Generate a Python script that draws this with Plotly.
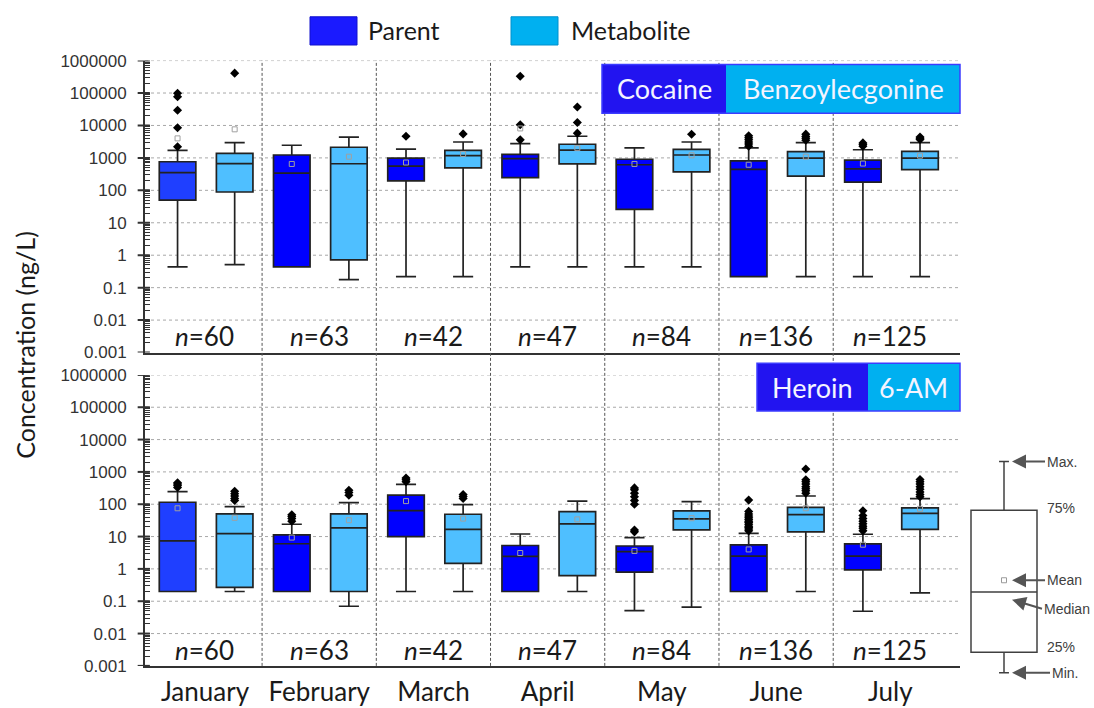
import plotly.graph_objects as go

# ---------------- data ----------------
months = ["January", "February", "March", "April", "May", "June", "July"]
n_counts = [60, 63, 42, 47, 84, 136, 125]

# Top panel: Cocaine (parent)
coc_q1 = [50, 0.44, 195, 245, 26, 0.22, 178]
coc_med = [350, 337, 560, 950, 615, 445, 460]
coc_q3 = [760, 1230, 980, 1290, 910, 810, 850]
coc_lo = [0.44, 0.44, 0.22, 0.44, 0.44, 0.22, 0.22]
coc_hi = [1700, 2450, 1860, 2750, 2040, 2040, 1780]
coc_mean = [4000, 650, 720, 8100, 650, 615, 670]
coc_out = [[98000, 77000, 29500, 8500, 2200], [], [4650], [330000, 10500, 3600],
           [], [2300, 2700, 3100, 3600, 4200, 4800], [2300, 2600, 2900]]

# Top panel: Benzoylecgonine (metabolite)
be_q1 = [89, 0.72, 490, 650, 370, 275, 435]
be_med = [670, 660, 1170, 1740, 1230, 980, 980]
be_q3 = [1380, 2130, 1700, 2630, 1820, 1550, 1590]
be_lo = [0.51, 0.178, 0.22, 0.44, 0.44, 0.22, 0.22]
be_hi = [2950, 4360, 3090, 4650, 3090, 2950, 2950]
be_mean = [7600, 1090, 1320, 2000, 1200, 1090, 1170]
be_out = [[410000], [], [5500], [37000, 12300, 5800], [5350],
          [3500, 4000, 4600, 5400], [3700, 4000, 4400]]

# Bottom panel: Heroin (parent)
her_q1 = [0.2, 0.2, 10, 0.2, 0.8, 0.2, 0.93]
her_med = [7.4, 6.0, 63, 2.45, 3.4, 2.5, 2.5]
her_q3 = [115, 11.3, 190, 5.3, 5.1, 5.5, 5.9]
her_lo = [0.2, 0.2, 0.2, 0.2, 0.051, 0.2, 0.049]
her_hi = [245, 24, 410, 12, 9.3, 12.6, 11.8]
her_mean = [75, 9.3, 125, 3.1, 3.6, 4.0, 5.6]
her_out = [[330, 380, 420, 460], [30, 36, 42, 47], [500, 570, 650], [],
           [14, 16, 100, 130, 170, 220, 280, 320],
           [15, 17, 19, 21, 24, 27, 30, 34, 38, 43, 50, 60, 134],
           [15, 18, 21, 25, 30, 36, 45, 63]]

# Bottom panel: 6-AM (metabolite)
am_q1 = [0.27, 0.2, 1.48, 0.62, 16, 14, 16.6]
am_med = [12.3, 18.6, 16.6, 24.6, 35, 48, 52]
am_q3 = [50, 50, 49, 59, 62, 80, 77]
am_lo = [0.2, 0.07, 0.2, 0.2, 0.066, 0.2, 0.18]
am_hi = [84, 112, 97, 125, 120, 180, 150]
am_mean = [38, 32, 36, 34, 37, 75, 72]
am_out = [[130, 150, 180, 210, 250], [190, 230, 270], [150, 175, 200], [], [],
          [220, 260, 300, 350, 420, 500, 570, 1230],
          [170, 200, 240, 290, 350, 420, 500, 580]]

y_tick_vals = [0.001, 0.01, 0.1, 1, 10, 100, 1000, 10000, 100000, 1000000]
y_tick_text = ["0.001", "0.01", "0.1", "1", "10", "100", "1000", "10000", "100000", "1000000"]

# schematic key box (arbitrary units)
key_min, key_q1, key_median, key_mean, key_q3, key_max = 0, 2.1, 8.3, 9.5, 16.7, 21.7

# ---------------- styling ----------------
W, H = 1094, 708
PARENT_JAN = "#1f3fff"
PARENT = "#0000ff"
METAB = "#4fbfff"
LINE = "#222222"
FONT = "Lato"
AXC = "#333333"


def px(x):
    return x / W


def py(y):
    return 1 - y / H


fig = go.Figure()

panels = [
    ("x", "y", coc_q1, coc_med, coc_q3, coc_lo, coc_hi, coc_mean, coc_out,
     be_q1, be_med, be_q3, be_lo, be_hi, be_mean, be_out),
    ("x2", "y2", her_q1, her_med, her_q3, her_lo, her_hi, her_mean, her_out,
     am_q1, am_med, am_q3, am_lo, am_hi, am_mean, am_out),
]

P_OFF, M_OFF = -0.24, 0.26
for (xa, ya, pq1, pmed, pq3, plo, phi, pmean, pout,
     mq1, mmed, mq3, mlo, mhi, mmean, mout) in panels:
    for i in range(len(months)):
        for off, q1, med, q3, lo, hi, col in [
            (P_OFF, pq1, pmed, pq3, plo, phi, PARENT_JAN if i == 0 else PARENT),
            (M_OFF, mq1, mmed, mq3, mlo, mhi, METAB),
        ]:
            fig.add_trace(go.Box(
                x=[i + off], q1=[q1[i]], median=[med[i]], q3=[q3[i]],
                lowerfence=[lo[i]], upperfence=[hi[i]], orientation="v",
                width=0.32, whiskerwidth=0.55, fillcolor=col,
                line=dict(color=LINE, width=1.7), boxpoints=False,
                xaxis=xa, yaxis=ya, showlegend=False, hoverinfo="skip"))
    # outliers
    for off, outs in [(P_OFF, pout), (M_OFF, mout)]:
        xs, ys = [], []
        for i, vals in enumerate(outs):
            xs += [i + off] * len(vals)
            ys += vals
        fig.add_trace(go.Scatter(
            x=xs, y=ys, mode="markers", xaxis=xa, yaxis=ya,
            marker=dict(symbol="diamond", size=7, color="black"),
            showlegend=False, hoverinfo="skip"))
    # means
    for off, means in [(P_OFF, pmean), (M_OFF, mmean)]:
        fig.add_trace(go.Scatter(
            x=[i + off for i in range(len(months))], y=means, mode="markers",
            xaxis=xa, yaxis=ya,
            marker=dict(symbol="square-open", size=5, color="#a0a0a0",
                        line=dict(width=1)),
            showlegend=False, hoverinfo="skip"))

# key box
fig.add_trace(go.Box(
    x=[0.4], q1=[key_q1], median=[key_median], q3=[key_q3],
    lowerfence=[key_min], upperfence=[key_max], orientation="v",
    width=0.66, whiskerwidth=0.15, fillcolor="white",
    line=dict(color="#404040", width=1.5), boxpoints=False,
    xaxis="x3", yaxis="y3", showlegend=False, hoverinfo="skip"))
fig.add_trace(go.Scatter(
    x=[0.4], y=[key_mean], mode="markers", xaxis="x3", yaxis="y3",
    marker=dict(symbol="square-open", size=5, color="#9a9a9a"),
    showlegend=False, hoverinfo="skip"))

# ---------------- axes ----------------
X_DOM = [px(145), px(960)]
Y1_DOM = [py(353), py(53)]
Y2_DOM = [py(675), py(376)]
X_RANGE = [-0.525, 6.61]

minor_vals = [k * 10.0 ** d for d in range(-3, 6) for k in range(2, 10)]
all_vals = y_tick_vals + minor_vals
all_text = y_tick_text + [""] * len(minor_vals)
divider_vals = [i + 0.5 for i in range(len(months) - 1)]

yaxis_common = dict(
    type="log", range=[-3, 6], tickmode="array", tickvals=all_vals,
    ticktext=all_text, showgrid=False, showline=True, linecolor=AXC,
    linewidth=2, ticks="inside", ticklen=5, tickwidth=1.4, tickcolor=AXC,
    ticklabelstandoff=13,
    tickfont=dict(family="Liberation Sans", size=17, color=AXC),
    zeroline=False,
)
xaxis_common = dict(
    range=X_RANGE, domain=X_DOM, showgrid=False, zeroline=False,
    showline=True, linecolor=AXC, linewidth=2, ticks="",
)

fig.update_layout(
    width=W, height=H, margin=dict(l=0, r=0, t=0, b=0),
    paper_bgcolor="white", plot_bgcolor="white",
    xaxis=dict(**xaxis_common, anchor="y", showticklabels=False),
    yaxis=dict(**yaxis_common, domain=Y1_DOM, anchor="x"),
    xaxis2=dict(**xaxis_common, anchor="y2", matches="x",
                tickmode="array", tickvals=list(range(len(months))),
                ticktext=months, ticklabelstandoff=2,
                tickfont=dict(family=FONT, size=26, color="#1a1a1a")),
    yaxis2=dict(**yaxis_common, domain=Y2_DOM, anchor="x2"),
    xaxis3=dict(domain=[px(964), 1.0], range=[0, 1.3], visible=False,
                anchor="y3"),
    yaxis3=dict(domain=[py(692), py(452)], range=[-1, 23], visible=False,
                anchor="x3"),
)

shapes = []
annotations = []

# decade gridlines and crossing major ticks (through the log y scales)
for ya in ["y", "y2"]:
    xa = "x" if ya == "y" else "x2"
    for v in y_tick_vals[1:]:
        shapes.append(dict(type="line", xref=f"{xa} domain", yref=ya,
                           x0=0, x1=1, y0=v, y1=v, layer="below",
                           line=dict(color="#a8a8a8", width=1, dash="dot")))
    for v in y_tick_vals:
        shapes.append(dict(type="line", xref=f"{xa} domain", yref=ya,
                           x0=-0.009, x1=0.006, y0=v, y1=v,
                           line=dict(color=AXC, width=2)))

# month dividers spanning both panels
for b in divider_vals:
    shapes.append(dict(type="line", xref="x", yref="paper", x0=b, x1=b,
                       y0=Y2_DOM[0], y1=Y1_DOM[1],
                       line=dict(color="#555555", width=1, dash="3px,2px")))

# n= labels
for ya in ["y", "y2"]:
    for i, n in enumerate(n_counts):
        annotations.append(dict(
            x=i, y=0.055, xref="x", yref=f"{ya} domain", showarrow=False,
            text=f"<i>n</i>={n}", yanchor="middle",
            font=dict(family=FONT, size=26, color="#1a1a1a")))

# compound label boxes


def label_pair(x0, xm, x1, y0, y1, left, right):
    shapes.append(dict(type="rect", xref="paper", yref="paper",
                       x0=px(x0), x1=px(xm), y0=py(y1), y1=py(y0),
                       fillcolor="#2214f0", line=dict(width=0)))
    shapes.append(dict(type="rect", xref="paper", yref="paper",
                       x0=px(xm), x1=px(x1), y0=py(y1), y1=py(y0),
                       fillcolor="#00b0f0", line=dict(width=0)))
    shapes.append(dict(type="rect", xref="paper", yref="paper",
                       x0=px(x0), x1=px(x1), y0=py(y1), y1=py(y0),
                       fillcolor="rgba(0,0,0,0)",
                       line=dict(color="#3c3cff", width=1.5)))
    for t, a, b in [(left, x0, xm), (right, xm, x1)]:
        annotations.append(dict(
            x=px((a + b) / 2), y=py((y0 + y1) / 2), xref="paper", yref="paper",
            text=t, showarrow=False, xanchor="center", yanchor="middle",
            font=dict(family=FONT, size=27, color="#f4f4ff")))


label_pair(602, 726, 960, 57, 107, "Cocaine", "Benzoylecgonine")
label_pair(757, 868, 960, 364, 413, "Heroin", "6-AM")

# legend
for (sx0, sx1, tx, col, edge, txt) in [
    (310, 357, 366, "#1a1aff", "#1010cc", "Parent"),
    (511, 558, 569, "#00b0f0", "#0090cc", "Metabolite"),
]:
    shapes.append(dict(type="rect", xref="paper", yref="paper",
                       x0=px(sx0), x1=px(sx1), y0=py(37), y1=py(8),
                       fillcolor=col, line=dict(color=edge, width=1)))
    annotations.append(dict(
        x=px(tx), y=py(22), xref="paper", yref="paper", text=txt,
        showarrow=False, xanchor="left", yanchor="middle",
        font=dict(family=FONT, size=25, color="#1a1a1a")))

# y title
annotations.append(dict(
    x=px(25), y=py(345), xref="paper", yref="paper",
    text="Concentration (ng/L)", showarrow=False, textangle=-90,
    xanchor="center", yanchor="middle",
    font=dict(family=FONT, size=25, color="#1a1a1a")))

# key annotations
key_font = dict(family="Liberation Sans", size=14, color="#404040")
for txt, yv, ax, ay in [("Max.", key_max, 33, 0), ("Mean", key_mean, 33, 0),
                        ("Median", key_median - 0.8, 30, 9), ("Min.", key_min, 38, 0)]:
    annotations.append(dict(
        x=0.48, y=yv, xref="x3", yref="y3", text=txt, showarrow=True,
        ax=ax, ay=ay, xanchor="left", yanchor="middle", arrowhead=2,
        arrowsize=1.4, arrowwidth=2, arrowcolor="#555555", standoff=0,
        font=key_font))
for txt, yv in [("75%", key_q3 + 0.2), ("25%", key_q1 + 0.5)]:
    annotations.append(dict(
        x=0.81, y=yv, xref="x3", yref="y3", text=txt, showarrow=False,
        xanchor="left", yanchor="middle", font=key_font))

fig.update_layout(shapes=shapes, annotations=annotations)

fig.write_html("out.html")
